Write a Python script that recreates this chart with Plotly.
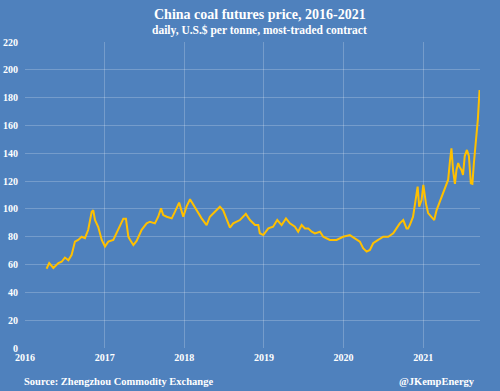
import plotly.graph_objects as go

dates = [
    "2016-04-09", "2016-04-21", "2016-05-10", "2016-06-02", "2016-06-17", "2016-07-02",
    "2016-07-18", "2016-08-02", "2016-08-17", "2016-09-01", "2016-09-17", "2016-10-02",
    "2016-10-17", "2016-11-02", "2016-11-09", "2016-11-17", "2016-12-02", "2016-12-18",
    "2017-01-02", "2017-01-17", "2017-02-09", "2017-03-04", "2017-03-27", "2017-04-08",
    "2017-04-19", "2017-04-26", "2017-05-12", "2017-05-27", "2017-06-11", "2017-06-19",
    "2017-07-12", "2017-07-27", "2017-08-19", "2017-09-03", "2017-09-16", "2017-09-26",
    "2017-10-12", "2017-11-04", "2017-11-19", "2017-12-08", "2017-12-27", "2018-01-11",
    "2018-01-27", "2018-02-11", "2018-02-26", "2018-03-21", "2018-04-13", "2018-04-28",
    "2018-05-21", "2018-06-13", "2018-06-28", "2018-07-14", "2018-07-29", "2018-08-13",
    "2018-09-13", "2018-10-10", "2018-10-29", "2018-11-21", "2018-12-06", "2018-12-13",
    "2018-12-29", "2019-01-21", "2019-02-12", "2019-03-03", "2019-03-23", "2019-04-12",
    "2019-04-30", "2019-05-23", "2019-06-07", "2019-06-23", "2019-07-08", "2019-07-23",
    "2019-08-08", "2019-08-23", "2019-09-15", "2019-09-30", "2019-10-30", "2019-11-30",
    "2019-12-30", "2020-01-30", "2020-02-22", "2020-03-16", "2020-03-31", "2020-04-16",
    "2020-05-01", "2020-05-16", "2020-06-08", "2020-07-01", "2020-07-24", "2020-08-16",
    "2020-08-31", "2020-09-15", "2020-10-01", "2020-10-16", "2020-10-23", "2020-10-31",
    "2020-11-15", "2020-11-28", "2020-12-06", "2020-12-13", "2020-12-24", "2021-01-01",
    "2021-01-13", "2021-01-23", "2021-02-08", "2021-02-20", "2021-03-03", "2021-03-18",
    "2021-03-30", "2021-04-10", "2021-04-25", "2021-05-03", "2021-05-10", "2021-05-18",
    "2021-05-26", "2021-06-02", "2021-06-10", "2021-06-17", "2021-06-25", "2021-07-02",
    "2021-07-10", "2021-07-20", "2021-07-29", "2021-08-07", "2021-08-14", "2021-08-21",
    "2021-09-01", "2021-09-08", "2021-09-16",
]
price_usd = [
    57, 61, 57.5, 61, 62, 65,
    63, 67, 76.5, 77.7, 80, 79,
    85, 98, 99, 92, 87, 77.7,
    73, 76.5, 77.7, 85, 93, 93,
    80, 78, 74, 77, 82, 85,
    89.6, 90.8, 89.6, 94.4, 100.4, 95.6,
    94.4, 93.2, 98, 104.5, 94.4, 101.6,
    107, 103, 99, 93.2, 88.4, 94.4,
    98, 101.6, 99, 93.2, 86.5, 89.6,
    92, 96.4, 92, 88.4, 88.4, 82.5,
    81.2, 86, 87.2, 92, 88.4, 93.2,
    89.6, 87.2, 83.6, 88.4, 86, 86,
    83.6, 82.4, 83.6, 80, 77.7, 77.7,
    80, 81.2, 78.9, 76.5, 71.7, 69.3,
    70.5, 75.3, 77.7, 80, 80, 82.4,
    86, 89.6, 92, 86, 86, 88.4,
    94.4, 106.4, 116, 101.6, 106.4, 117.2,
    104, 97, 94.4, 92, 99.2, 105,
    111, 114, 121, 134, 143.5, 127,
    118, 128, 133, 130, 128, 124.4,
    138, 142.4, 138, 118.4, 118, 133,
    150, 164, 185.5,
]

year_ticks = ["2016-01-01", "2017-01-01", "2018-01-01", "2019-01-01", "2020-01-01", "2021-01-01"]
year_labels = ["2016", "2017", "2018", "2019", "2020", "2021"]
y_ticks = list(range(0, 221, 20))

BG = "#4f81bd"
GRID = "rgba(255,255,255,0.22)"
FONT = "Liberation Serif"

fig = go.Figure()
fig.add_trace(go.Scatter(
    x=dates, y=price_usd, mode="lines",
    line=dict(color="#ffc000", width=2),
    showlegend=False, hoverinfo="skip",
))

fig.update_layout(
    width=500, height=391,
    paper_bgcolor=BG, plot_bgcolor=BG,
    margin=dict(l=25, r=20, t=42, b=43),
    font=dict(family=FONT, color="white", size=10, weight="bold"),
    xaxis=dict(
        type="date", range=["2016-01-01", "2021-09-18"], automargin=False,
        tickvals=year_ticks, ticktext=year_labels,
        showgrid=True, gridcolor=GRID, gridwidth=1,
        zeroline=False, showline=False, ticks="", ticklabelstandoff=2,
        tickfont=dict(family=FONT, size=10, color="white", weight="bold"),
    ),
    yaxis=dict(
        range=[0, 220], tickvals=y_ticks, automargin=False,
        showgrid=True, gridcolor=GRID, gridwidth=1,
        zeroline=False, showline=False, ticks="", ticklabelstandoff=6,
        tickfont=dict(family=FONT, size=10, color="white", weight="bold"),
    ),
    annotations=[
        dict(text="China coal futures price, 2016-2021", xref="paper", yref="paper",
             x=0.5, y=1, xanchor="center", yanchor="bottom", yshift=18, showarrow=False,
             xshift=7,
             font=dict(family=FONT, size=14, color="white", weight="bold")),
        dict(text="daily, U.S.$ per tonne, most-traded contract", xref="paper", yref="paper",
             x=0.5, y=1, xanchor="center", yanchor="bottom", yshift=3, showarrow=False,
             xshift=7,
             font=dict(family=FONT, size=11.5, color="white", weight="bold")),
        dict(text="Source: Zhengzhou Commodity Exchange", xref="paper", yref="paper",
             x=0, y=0, xanchor="left", yanchor="top", yshift=-26, xshift=-3, showarrow=False,
             font=dict(family=FONT, size=10.5, color="white", weight="bold")),
        dict(text="@JKempEnergy", xref="paper", yref="paper",
             x=1, y=0, xanchor="right", yanchor="top", yshift=-26, xshift=-3, showarrow=False,
             font=dict(family=FONT, size=10.5, color="white", weight="bold")),
    ],
)

fig.write_html("out.html", config={"displayModeBar": False},
               post_script="document.body.style.margin='0';document.body.style.padding='0';")
